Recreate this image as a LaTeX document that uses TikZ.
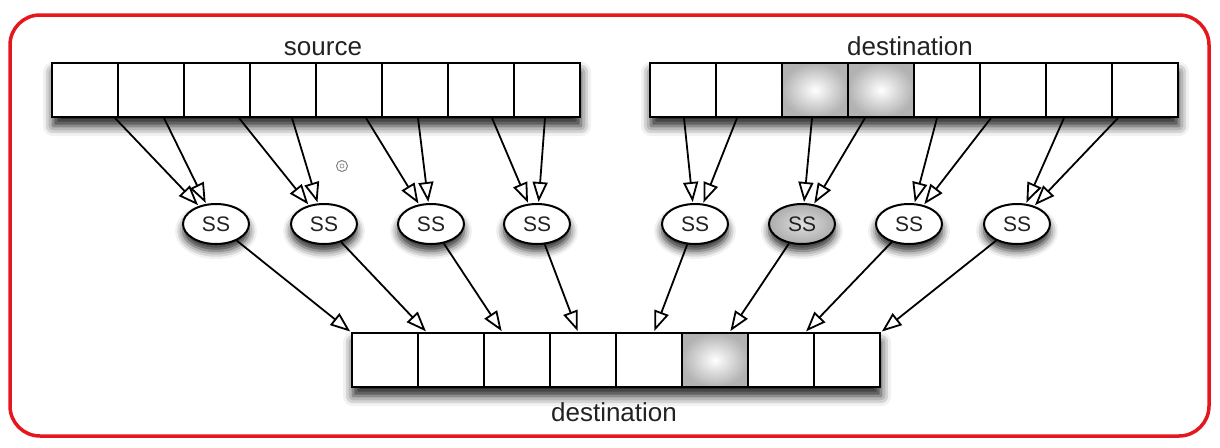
\documentclass[tikz,border=0pt]{standalone}
\usepackage{fontspec}
\setmainfont{Liberation Sans}
\usetikzlibrary{arrows.meta,shapes.geometric,shadows.blur,calc}
\definecolor{framered}{HTML}{E5171D}
\definecolor{txt}{HTML}{222222}
\tikzset{
  cell/.style={draw, line width=2pt, minimum width=66pt, minimum height=54pt, inner sep=0pt, fill=white},
  hotcell/.style={cell, shading=radial, inner color=white, outer color=gray!60},
  arraybox/.style={minimum width=528pt, minimum height=54pt, inner sep=0pt, fill=white,
     blur shadow={shadow xshift=1pt, shadow yshift=-9pt, shadow blur radius=10pt, shadow opacity=90}},
  ssnode/.style={ellipse, draw, line width=2pt, minimum width=66pt, minimum height=40pt, inner sep=0pt,
     fill=white, text=txt, font=\fontsize{21}{21}\selectfont,
     blur shadow={shadow xshift=0pt, shadow yshift=-7pt, shadow blur radius=8pt, shadow opacity=85}},
  hotss/.style={ssnode, shading=radial, inner color=gray!25, outer color=gray!65},
  conn/.style={line width=1.8pt, -{Triangle[open, length=20pt, width=15pt, line width=1.8pt]}, shorten >=1pt},
  lbl/.style={text=txt, font=\fontsize{26}{26}\selectfont, inner sep=0pt, anchor=base},
}
\begin{document}
\begin{tikzpicture}[x=1pt, y=-1pt]
\useasboundingbox (0,0) rectangle (1220,447);
\draw[framered, line width=3.5pt, rounded corners=30pt] (10,15) rectangle (1209,436);

% labels
\node[lbl] (srclbl) at (323,55) {source};
\node[lbl] (dstlbl) at (910,55) {destination};
\node[lbl] (botlbl) at (614,421) {destination};

% arrays
\node[arraybox] (sbox) at (316,90) {};
\node[arraybox] (dbox) at (914,90) {};
\node[arraybox] (bbox) at (616,360) {};
\foreach \i in {1,...,8} {
  \node[cell] (s\i) at ({19+66*\i},90) {};
}
\foreach \i in {1,...,8} {
  \ifnum\i=3 \node[hotcell] (d\i) at ({617+66*\i},90) {};
  \else\ifnum\i=4 \node[hotcell] (d\i) at ({617+66*\i},90) {};
  \else \node[cell] (d\i) at ({617+66*\i},90) {};
  \fi\fi
}
\foreach \i in {1,...,8} {
  \ifnum\i=6 \node[hotcell] (b\i) at ({319+66*\i},360) {};
  \else \node[cell] (b\i) at ({319+66*\i},360) {};
  \fi
}

% SS nodes
\node[ssnode] (ss1) at (216,224) {SS};
\node[ssnode] (ss2) at (324,224) {SS};
\node[ssnode] (ss3) at (431,224) {SS};
\node[ssnode] (ss4) at (537,224) {SS};
\node[ssnode] (ss5) at (695,224) {SS};
\node[hotss]  (ss6) at (802,224) {SS};
\node[ssnode] (ss7) at (909,224) {SS};
\node[ssnode] (ss8) at (1017,224) {SS};

% cursor mark
\node[circle, draw=gray, line width=1pt, minimum size=11pt, inner sep=0pt] (cursor) at (342,166) {};
\node[circle, draw=gray, line width=0.6pt, minimum size=4pt, inner sep=0pt] (cursordot) at (cursor) {};

% source to SS
\draw[conn] ([xshift=30pt]s1.south) -- (ss1);
\draw[conn] ([xshift=13pt]s2.south) -- (ss1);
\draw[conn] ([xshift=22pt]s3.south) -- (ss2);
\draw[conn] ([xshift=9pt]s4.south) -- (ss2);
\draw[conn] ([xshift=17pt]s5.south) -- (ss3);
\draw[conn] ([xshift=3pt]s6.south) -- (ss3);
\draw[conn] ([xshift=11pt]s7.south) -- (ss4);
\draw[conn] ([xshift=-2pt]s8.south) -- (ss4);

% destination to SS
\draw[conn] ([xshift=1pt]d1.south) -- (ss5);
\draw[conn] ([xshift=-12pt]d2.south) -- (ss5);
\draw[conn] ([xshift=-3pt]d3.south) -- (ss6);
\draw[conn] ([xshift=-16pt]d4.south) -- (ss6);
\draw[conn] ([xshift=-10pt]d5.south) -- (ss7);
\draw[conn] ([xshift=-22pt]d6.south) -- (ss7);
\draw[conn] ([xshift=-15pt]d7.south) -- (ss8);
\draw[conn] ([xshift=-27pt]d8.south) -- (ss8);

% SS to bottom destination
\foreach \k in {1,...,8} {
  \coordinate (t\k) at ($(bbox.north west)!{(\k-1)/7}!(bbox.north east)$);
  \draw[conn, shorten >=2pt] (ss\k) -- (t\k);
}
\end{tikzpicture}
\end{document}
